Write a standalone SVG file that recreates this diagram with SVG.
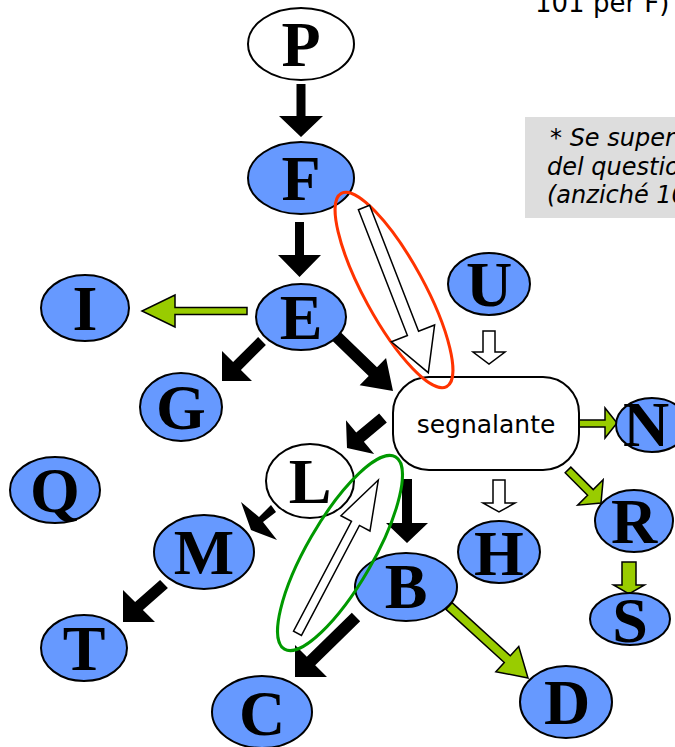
<svg xmlns="http://www.w3.org/2000/svg" width="675" height="747" viewBox="0 0 675 747">
<style>
.nb{fill:#6699FF;stroke:#000;stroke-width:2}
.nw{fill:#FFFFFF;stroke:#000;stroke-width:2}
.lt{font-family:"Liberation Serif","Times New Roman",serif;font-weight:bold;font-size:64px;text-anchor:middle;fill:#000}
.blk{fill:#000;stroke:none}
.grn{fill:#99CC00;stroke:#000;stroke-width:1.5;stroke-linejoin:miter}
.hol{fill:#FFFFFF;stroke:#000;stroke-width:1.5}
.note{font-family:"DejaVu Sans","Verdana",sans-serif;font-size:24px;fill:#000}
</style>
<rect width="675" height="747" fill="#FFFFFF"/>
<g id="notes">
<text class="note" x="535" y="12" style="font-size:26px">101 per F)</text>
<rect x="525" y="117" width="160" height="101" fill="#DDDDDD"/>
<text class="note" font-style="italic" x="550" y="146">* Se super</text>
<text class="note" font-style="italic" x="547" y="175">del questio</text>
<text class="note" font-style="italic" x="547" y="203">(anziché 10</text>
</g>
<g id="connectors">
<polygon class="blk" points="296.5,84 296.5,116 279,116 301,137 323,116 305.5,116 305.5,84"/>
<polygon class="blk" points="295,222 295,255 278,255 299.5,277 321,255 304,255 304,222"/>
<polygon class="grn" points="247,307.5 175,307.5 175,295 142,311 175,327 175,314.5 247,314.5"/>
<polygon class="blk" points="258.1,337.1 233.1,362.1 222,351 222,381 252,381 240.9,369.9 265.9,344.9"/>
<polygon class="blk" points="330.8,339.3 368.7,375.9 359.65,385.2 393,391 386.05,357.9 377,367.2 339.2,330.7"/>
<polygon class="blk" points="379.16,413.39 356.22,432.51 345.98,420.22 347,448 374.14,454.02 363.9,441.73 386.84,422.61"/>
<polygon class="blk" points="402,479 402,523 386,523 407,543 428,523 412,523 412,479"/>
<polygon class="blk" points="271,505 259,517 241,502 251,530 277,540 263,522 276,512"/>
<polygon class="blk" points="160.1,580.1 135.1,602.1 123,590 123,622 155,622 142.9,609.9 167.9,587.9"/>
<polygon class="blk" points="351.8,612.8 306.8,656.8 295,645 295,677 327,677 315.2,665.2 360.2,621.2"/>
<polygon class="grn" points="445.97,609.33 504.27,662.47 495.85,671.7 528,678 518.75,646.58 510.33,655.81 452.03,602.67"/>
<polygon class="grn" points="579,420 605,420 605,408 617,423 605,438 605,427 579,427"/>
<polygon class="grn" points="565.17,472.83 587.57,495.23 577.67,505.13 601,503 603.13,479.67 593.23,489.57 570.83,467.17"/>
<polygon class="grn" points="622,562 622,585 613.5,585 629,594 644.5,585 636,585 636,562"/>
<polygon class="hol" points="483,331 483,352 473,352 489,364 505,352 495,352 495,331"/>
<polygon class="hol" points="493,480 493,503 483,503 499,512 515,503 505,503 505,480"/>
</g>
<g id="node-P"><ellipse class="nw" cx="301" cy="44" rx="53" ry="36"/><text class="lt" x="301" y="66">P</text></g>
<g id="node-F"><ellipse class="nb" cx="301" cy="178" rx="53" ry="36"/><text class="lt" x="301" y="200">F</text></g>
<g id="node-E"><ellipse class="nb" cx="301" cy="317" rx="45" ry="33"/><text class="lt" x="301" y="339">E</text></g>
<g id="node-I"><ellipse class="nb" cx="85" cy="308" rx="44" ry="33"/><text class="lt" x="85" y="330">I</text></g>
<g id="node-G"><ellipse class="nb" cx="181" cy="407" rx="41" ry="34"/><text class="lt" x="181" y="429">G</text></g>
<g id="node-U"><ellipse class="nb" cx="489" cy="284" rx="41" ry="31"/><text class="lt" x="489" y="306">U</text></g>
<g id="node-segnalante"><rect x="393" y="377" width="186" height="93" rx="36" ry="36" fill="#FFFFFF" stroke="#000" stroke-width="2"/><text x="486" y="433" font-family="DejaVu Sans, Verdana, sans-serif" font-size="25" text-anchor="middle">segnalante</text></g>
<g id="node-N"><ellipse class="nb" cx="652" cy="425" rx="36" ry="27"/><text class="lt" x="646" y="446">N</text></g>
<g id="node-R"><ellipse class="nb" cx="634" cy="521" rx="39" ry="31"/><text class="lt" x="634" y="543">R</text></g>
<g id="node-S"><ellipse class="nb" cx="630" cy="619" rx="40" ry="26"/><text class="lt" x="630" y="642">S</text></g>
<g id="node-H"><ellipse class="nb" cx="499" cy="552" rx="41" ry="31"/><text class="lt" x="499" y="575">H</text></g>
<g id="node-L"><ellipse class="nw" cx="310" cy="481" rx="44" ry="37"/><text class="lt" x="310" y="503">L</text></g>
<g id="node-Q"><ellipse class="nb" cx="55" cy="490" rx="45" ry="33"/><text class="lt" x="55" y="512">Q</text></g>
<g id="node-M"><ellipse class="nb" cx="204" cy="552" rx="50" ry="37"/><text class="lt" x="204" y="574">M</text></g>
<g id="node-T"><ellipse class="nb" cx="84" cy="648" rx="43" ry="33"/><text class="lt" x="84" y="670">T</text></g>
<g id="node-B"><ellipse class="nb" cx="406" cy="587" rx="51" ry="34"/><text class="lt" x="406" y="608">B</text></g>
<g id="node-C"><ellipse class="nb" cx="262" cy="712" rx="50" ry="36"/><text class="lt" x="262" y="735">C</text></g>
<g id="node-D"><ellipse class="nb" cx="566" cy="702" rx="46" ry="36"/><text class="lt" x="567" y="724">D</text></g>
<g id="highlights">
<ellipse cx="394" cy="290" rx="110" ry="30" transform="rotate(61.4 394 290)" fill="none" stroke="#FF3300" stroke-width="3"/>
<polygon class="hol" points="358.41,209.68 407.4,335.56 391.37,341.79 428.3,372.7 434.61,324.97 418.58,331.2 369.59,205.32"/>
<ellipse cx="340" cy="553" rx="111" ry="33" transform="rotate(-60 340 553)" fill="none" stroke="#009900" stroke-width="3"/>
<polygon class="hol" points="301.48,635.4 359.44,525.45 369.97,531 378.3,480 340.95,515.7 351.48,521.25 293.52,631.2"/>
</g>
</svg>
